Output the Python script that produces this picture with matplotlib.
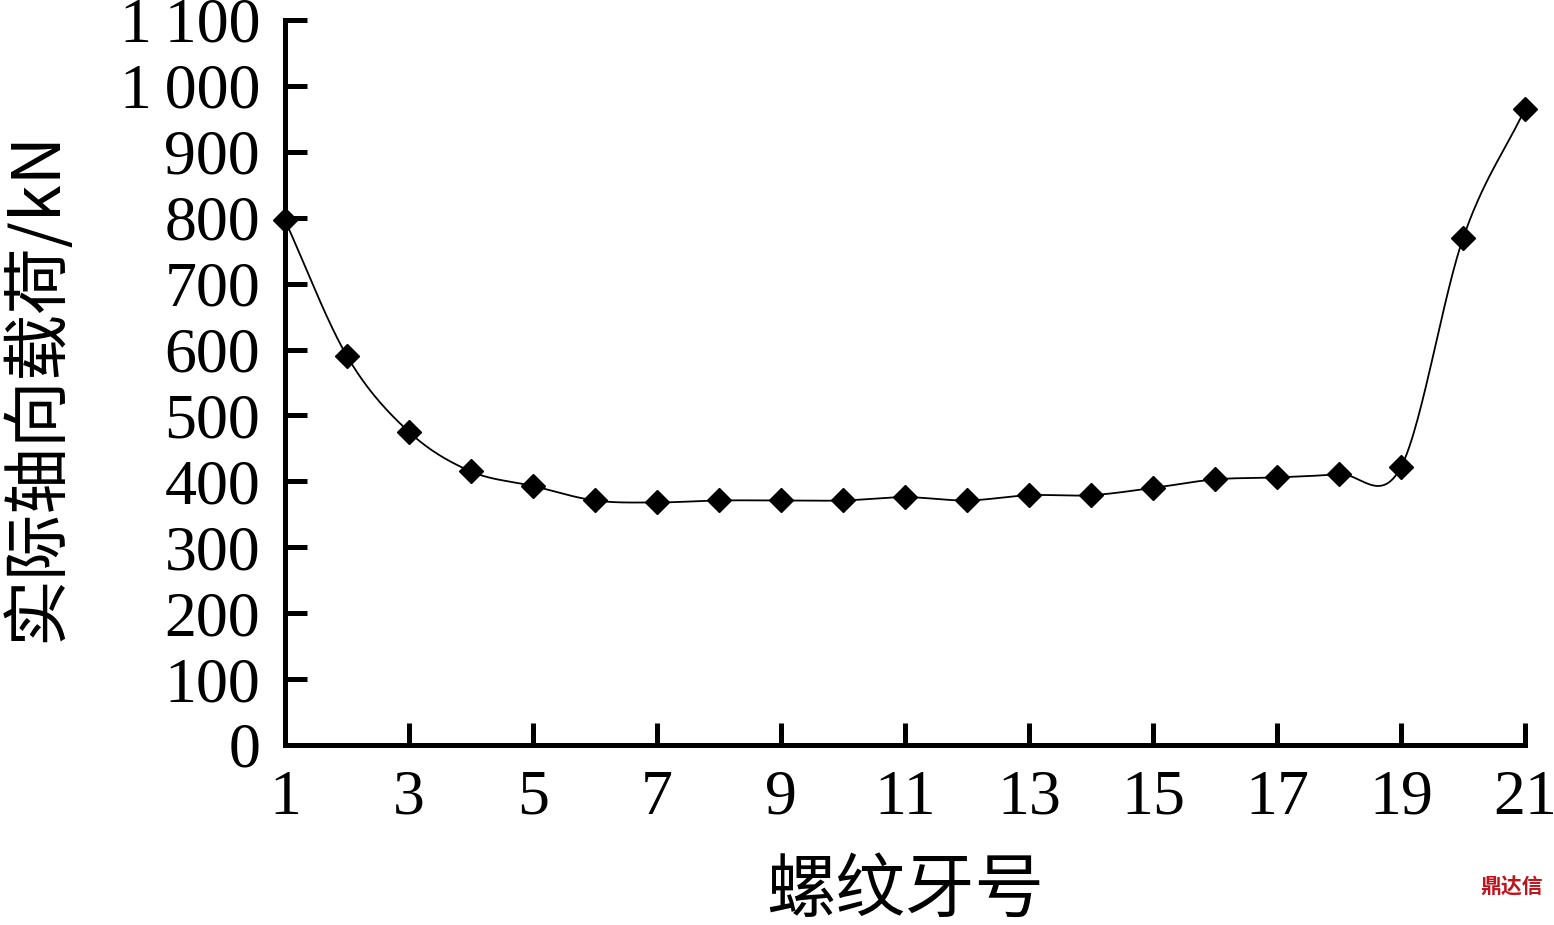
import numpy as np
import matplotlib
matplotlib.use("Agg")
import matplotlib.pyplot as plt

thread_no = [1, 2, 3, 4, 5, 6, 7, 8, 9, 10, 11, 12, 13, 14, 15, 16, 17, 18, 19, 20, 21]
axial_load = [796, 590, 475, 415, 393, 371, 368, 371, 371, 371, 376, 371, 379, 379, 390, 403, 406, 411, 422, 769, 965]
x_ticks = [1, 3, 5, 7, 9, 11, 13, 15, 17, 19, 21]
y_ticks = [0, 100, 200, 300, 400, 500, 600, 700, 800, 900, 1000, 1100]
y_tick_labels = ["0", "100", "200", "300", "400", "500", "600", "700", "800", "900", "1\u2009000", "1\u2009100"]
x_label = "螺纹牙号"
y_label = "实际轴向载荷/kN"

serif = ["Liberation Serif", "DejaVu Serif"]
cjk = ["Noto Sans CJK SC", "Liberation Serif", "DejaVu Sans"]


def catmull_rom(x, y, n=30):
    x = np.asarray(x, float)
    y = np.asarray(y, float)
    px = np.concatenate([[2 * x[0] - x[1]], x, [2 * x[-1] - x[-2]]])
    py = np.concatenate([[2 * y[0] - y[1]], y, [2 * y[-1] - y[-2]]])
    xs, ys = [], []
    t = np.linspace(0, 1, n, endpoint=False)
    for i in range(1, len(px) - 2):
        for arr, out in ((px, xs), (py, ys)):
            p0, p1, p2, p3 = arr[i - 1], arr[i], arr[i + 1], arr[i + 2]
            out.append(0.5 * ((2 * p1) + (-p0 + p2) * t
                              + (2 * p0 - 5 * p1 + 4 * p2 - p3) * t ** 2
                              + (-p0 + 3 * p1 - 3 * p2 + p3) * t ** 3))
    xs.append([x[-1]])
    ys.append([y[-1]])
    return np.concatenate(xs), np.concatenate(ys)


fig = plt.figure(figsize=(15.54, 9.25), dpi=100)
ax = fig.add_axes([0.1834, 0.1946, 0.7980, 0.7838])

sx, sy = catmull_rom(thread_no, axial_load)
ax.plot(sx, sy, color="black", lw=1.3, zorder=2)
ax.plot(thread_no, axial_load, linestyle="none", marker="D", ms=12,
        color="black", zorder=3, clip_on=False)

ax.set_xlim(1, 21)
ax.set_ylim(0, 1100)
ax.set_xticks(x_ticks)
ax.set_xticklabels([str(v) for v in x_ticks])
ax.set_yticks(y_ticks)
ax.set_yticklabels(y_tick_labels)

for s in ["top", "right"]:
    ax.spines[s].set_visible(False)
for s in ["left", "bottom"]:
    ax.spines[s].set_linewidth(3.6)
    ax.spines[s].set_capstyle("projecting")

ax.tick_params(axis="both", direction="in", length=16, width=3.6, colors="black")
ax.tick_params(axis="y", pad=18)
ax.tick_params(axis="x", pad=18)
for lab in ax.get_xticklabels() + ax.get_yticklabels():
    lab.set_fontfamily(serif)
    lab.set_fontsize(46)

ax.set_xlabel(x_label, fontfamily=cjk, fontsize=50, labelpad=20)
ax.set_ylabel(y_label, fontfamily=cjk, fontsize=48)
ax.yaxis.set_label_coords(-0.172, 0.494)

fig.text(0.993, 0.03, "鼎达信", color="#c0141c", fontsize=15, fontweight="bold",
         ha="right", va="bottom", fontfamily=cjk)

fig.savefig("out.png", dpi=100, facecolor="white")
